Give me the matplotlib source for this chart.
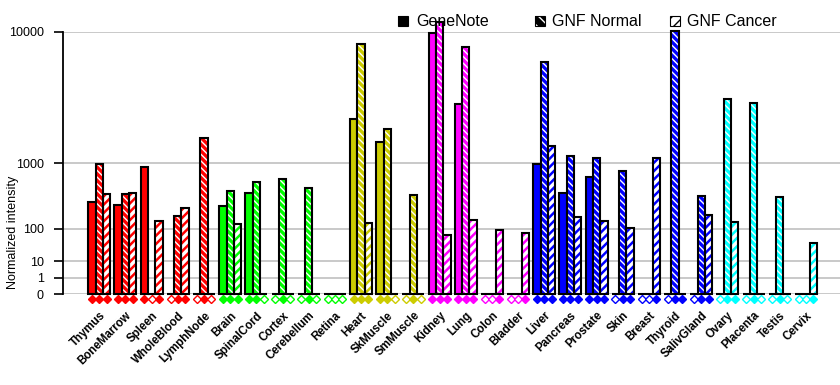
import numpy as np
import matplotlib
matplotlib.use("Agg")
import matplotlib.pyplot as plt
from matplotlib.patches import Rectangle

plt.rcParams['font.family'] = ['Liberation Sans', 'DejaVu Sans']

# ---------------- data ----------------
tissues = ["Thymus", "BoneMarrow", "Spleen", "WholeBlood", "LymphNode",
           "Brain", "SpinalCord", "Cortex", "Cerebellum", "Retina",
           "Heart", "SkMuscle", "SmMuscle",
           "Kidney", "Lung", "Colon", "Bladder",
           "Liver", "Pancreas", "Prostate", "Skin", "Breast", "Thyroid", "SalivGland",
           "Ovary", "Placenta", "Testis", "Cervix"]

genenote = [311, 276, 902, 0, 0,
            266, 424, 0, 0, 0,
            2606, 1625, 0,
            9890, 3420, 0, 0,
            975, 424, 689, 0, 0, 0, 0,
            0, 0, 0, 0]
gnf_normal = [985, 415, 0, 180, 1795,
              448, 595, 650, 497, 0,
              8490, 2163, 402,
              11250, 8170, 0, 0,
              6640, 1189, 1143, 811, 0, 10140, 383,
              3715, 3480, 370, 0]
gnf_cancer = [415, 428, 145, 249, 0,
              124, 0, 0, 0, 0,
              132, 0, 0,
              71, 154, 91, 80,
              1497, 173, 141, 103, 1132, 0, 188,
              139, 0, 0, 45]

# present calls (1 = filled diamond, 0 = open diamond)
call_genenote = [1, 1, 1, 0, 0, 1, 1, 0, 0, 0, 1, 1, 0, 1, 1, 0, 0, 1, 1, 1, 0, 0, 0, 0, 0, 0, 0, 0]
call_normal   = [1, 1, 0, 1, 1, 1, 1, 1, 1, 0, 1, 1, 1, 1, 1, 0, 0, 1, 1, 1, 1, 0, 1, 1, 1, 1, 1, 0]
call_cancer   = [1, 1, 1, 1, 0, 1, 0, 0, 0, 0, 1, 0, 0, 1, 1, 1, 1, 1, 1, 1, 1, 1, 1, 1, 1, 0, 0, 1]

group_sizes = [5, 5, 3, 4, 7, 4]
group_colors = ["#ff0000", "#00ff00", "#cccc00", "#ff00ff", "#0000ff", "#00ffff"]

yticks = [0, 1, 10, 100, 1000, 10000]
series_labels = ["GeneNote", "GNF Normal", "GNF Cancer"]

# ---------------- scale ----------------
P = np.log10(2.0)


def fwd(v):
    v = np.asarray(v, dtype=float)
    return np.sign(v) * np.abs(v) ** P


def inv(u):
    u = np.asarray(u, dtype=float)
    return np.sign(u) * np.abs(u) ** (1.0 / P)


colors = []
for c, n in zip(group_colors, group_sizes):
    colors += [c] * n

W, H = 840, 385
fig = plt.figure(figsize=(W / 100, H / 100), dpi=100)
ax_left, ax_bottom_px, ax_top_px = 63.3, 294.3, 31.7
ax = fig.add_axes([ax_left / W, (H - ax_bottom_px) / H, 1 - ax_left / W,
                   (ax_bottom_px - ax_top_px) / H])
ax.set_yscale('function', functions=(fwd, inv))
ax.set_ylim(0, 10000)
ax.set_xlim(-1.376, 28.30)

x = np.arange(len(tissues))
bw = 0.28
offsets = [-bw, 0.0, bw]

# GeneNote: solid
ax.bar(x + offsets[0], genenote, bw, color=colors, edgecolor='black',
       linewidth=1.5, clip_on=False, zorder=3)

# GNF Normal: colored face with white back-diagonal lines
with plt.rc_context({'hatch.linewidth': 1.0}):
    ax.bar(x + offsets[1], gnf_normal, bw, color=colors, edgecolor='white',
           hatch='\\' * 5, linewidth=0, clip_on=False, zorder=3)
ax.bar(x + offsets[1], gnf_normal, bw, fill=False, edgecolor='black',
       linewidth=1.5, clip_on=False, zorder=4)

# GNF Cancer: white face with colored diagonal stripes
with plt.rc_context({'hatch.linewidth': 1.8}):
    for xi, v, c in zip(x, gnf_cancer, colors):
        ax.bar(xi + offsets[2], v, bw, color='white', edgecolor=c,
               hatch='////', linewidth=0, clip_on=False, zorder=3)
ax.bar(x + offsets[2], gnf_cancer, bw, fill=False, edgecolor='black',
       linewidth=1.5, clip_on=False, zorder=4)

# presence diamonds below the baseline
trans = ax.get_xaxis_transform()
ymark = -4.2 / (ax_bottom_px - ax_top_px)
for calls, off in zip([call_genenote, call_normal, call_cancer], offsets):
    for xi, cl, c in zip(x, calls, colors):
        ax.plot(xi + off, ymark, marker='D', markersize=4.2,
                markerfacecolor=c if cl else 'white', markeredgecolor=c,
                markeredgewidth=1.0, transform=trans, clip_on=False, zorder=5)

# axes styling
for s in ['top', 'right', 'bottom']:
    ax.spines[s].set_visible(False)
ax.spines['left'].set_linewidth(1.3)
ax.spines['left'].set_color('black')
ax.set_yticks(yticks)
ax.set_yticklabels([str(t) for t in yticks], fontsize=9)
ax.yaxis.set_minor_locator(matplotlib.ticker.NullLocator())
ax.tick_params(axis='y', direction='out', length=6.5, width=1.2, pad=7.5)
ax.grid(axis='y', color='#c0c0c0', linewidth=1.2)
ax.set_axisbelow(True)

ax.set_xticks(x)
ax.set_xticklabels(tissues, rotation=45, ha='right', va='top',
                   rotation_mode='anchor', fontsize=8.3, fontweight='bold')
ax.tick_params(axis='x', length=0, pad=11)

fig.text(12.8 / W, 1 - 232.5 / H, "Normalized intensity", rotation=90,
         ha='center', va='center', fontsize=9)

# legend (manual)
leg_items = [(398, 416.7, dict(facecolor='black', edgecolor='black', hatch=None)),
             (535, 551.7, dict(facecolor='black', edgecolor='white', hatch='\\\\\\')),
             (670, 686.7, dict(facecolor='white', edgecolor='black', hatch='///'))]
for (mx, tx, style), lab in zip(leg_items, series_labels):
    r = Rectangle((mx / W, 1 - 25.5 / H), 9.5 / W, 9.5 / H, transform=fig.transFigure,
                  linewidth=0, **style)
    fig.add_artist(r)
    fig.add_artist(Rectangle((mx / W, 1 - 25.5 / H), 9.5 / W, 9.5 / H,
                             transform=fig.transFigure, fill=False,
                             edgecolor='black', linewidth=0.8))
    fig.text(tx / W, 1 - 21 / H, lab, ha='left', va='center', fontsize=11.5)

fig.savefig("out.png", dpi=100)
